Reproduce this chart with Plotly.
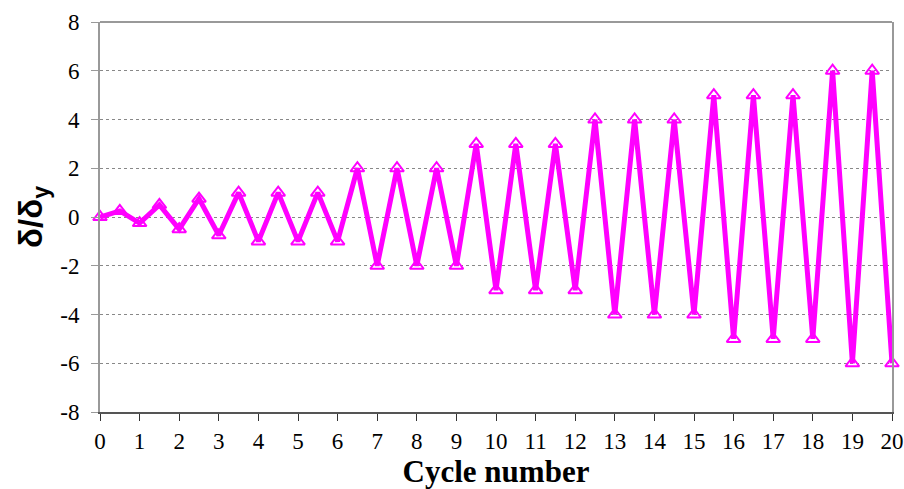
import plotly.graph_objects as go

cycle = [0, 0.5, 1, 1.5, 2, 2.5, 3, 3.5, 4, 4.5, 5, 5.5, 6, 6.5, 7, 7.5, 8, 8.5, 9, 9.5,
         10, 10.5, 11, 11.5, 12, 12.5, 13, 13.5, 14, 14.5, 15, 15.5, 16, 16.5, 17, 17.5,
         18, 18.5, 19, 19.5, 20]
ratio = [0, 0.25, -0.25, 0.5, -0.5, 0.75, -0.75, 1, -1, 1, -1, 1, -1, 2, -2, 2, -2, 2, -2, 3,
         -3, 3, -3, 3, -3, 4, -4, 4, -4, 4, -4, 5, -5, 5, -5, 5, -5, 6, -6, 6, -6]
x_ticks = list(range(0, 21))
y_ticks = [-8, -6, -4, -2, 0, 2, 4, 6, 8]
y_labels = ["-8", "-6", "-4", "-2", "0", "2", "4", "6", "8"]

fig = go.Figure()
fig.add_trace(go.Scatter(
    x=cycle, y=ratio, mode="lines+markers",
    line=dict(color="#FF00FF", width=5),
    marker=dict(symbol="triangle-up-open", size=12, color="#FF00FF",
                line=dict(color="#FF00FF", width=2)),
    showlegend=False, cliponaxis=False,
))

fig.update_layout(
    width=904, height=489,
    margin=dict(l=100, r=12, t=22, b=77, autoexpand=False),
    paper_bgcolor="white", plot_bgcolor="white",
    font=dict(family="Liberation Serif, Times New Roman, serif", size=23, color="black"),
    xaxis=dict(range=[0, 20], tickvals=x_ticks, ticks="outside", ticklen=7, tickcolor="#333",
               tickfont=dict(size=23),
               showgrid=False, showline=True, linecolor="#555", linewidth=2, mirror=False,
               zeroline=False, automargin=False,
               title=dict(text="<b>Cycle number</b>", font=dict(size=31), standoff=5)),
    yaxis=dict(range=[-8, 8], tickvals=y_ticks, ticktext=y_labels, ticks="outside", ticklen=7,
               tickcolor="#999", tickfont=dict(size=23), ticklabelstandoff=7,
               showgrid=True, gridcolor="#888", griddash="dot", gridwidth=1,
               showline=True, linecolor="#999", linewidth=2, mirror=True,
               zeroline=False, automargin=False,
               title=dict(text="<b>δ/δ<sub>y</sub></b>",
                          font=dict(family="Liberation Sans, Arial, sans-serif", size=33),
                          standoff=8)),
)
fig.add_shape(type="line", xref="paper", yref="paper", x0=0, x1=1, y0=1, y1=1,
              line=dict(color="#999", width=2), layer="below")

fig.write_html("out.html", config={"displayModeBar": False},
               post_script="document.body.style.margin='0';document.body.style.overflow='hidden';")
